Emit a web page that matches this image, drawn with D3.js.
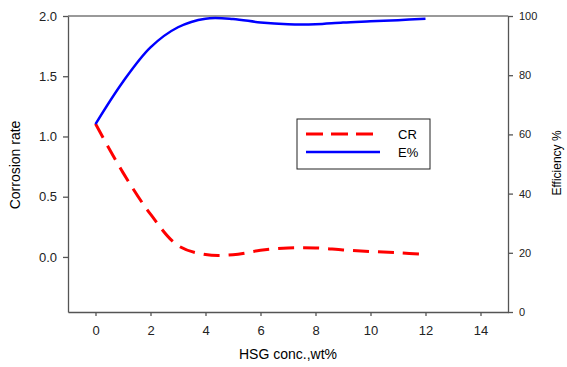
<!DOCTYPE html>
<html>
<head>
<meta charset="utf-8">
<script src="https://cdn.jsdelivr.net/npm/d3@7"></script>
<style>
  body { margin: 0; background: #fff; }
  svg { font-family: Arial, "Liberation Sans", sans-serif; }
  .axis path, .axis line { stroke: #555; stroke-width: 1.3; }
  .axis text { fill: #222; }
</style>
</head>
<body>
<svg width="567" height="367"></svg>
<script>
// data
var conc = [0, 1, 2, 3, 4, 5, 6, 7, 8, 9, 10, 11, 12];
var corrRate = [1.105, 0.70, 0.355, 0.095, 0.02, 0.018, 0.055, 0.075, 0.075, 0.058, 0.045, 0.035, 0.02];
var efficiency = [63.5, 77.8, 89.4, 96.2, 99.1, 99.0, 97.8, 97.2, 97.2, 97.8, 98.2, 98.6, 99.1];
var xTicks = [0, 2, 4, 6, 8, 10, 12, 14];
var leftTicks = [0.0, 0.5, 1.0, 1.5, 2.0];
var rightTicks = [0, 20, 40, 60, 80, 100];

var svg = d3.select("svg");
var margin = {top: 16, right: 59, bottom: 55, left: 68},
    width = 567 - margin.left - margin.right,
    height = 367 - margin.top - margin.bottom;

var g = svg.append("g")
  .attr("transform", "translate(" + margin.left + "," + margin.top + ")");

var x = d3.scaleLinear().domain([-1, 15]).range([0, width]),
    yL = d3.scaleLinear().domain([-0.457, 2.0]).range([height, 0]),
    yR = d3.scaleLinear().domain([0, 100]).range([height, 0]);

// frame top line
g.append("line")
  .attr("x1", 0).attr("x2", width).attr("y1", 0).attr("y2", 0)
  .attr("stroke", "#777").attr("stroke-width", 1.3);

var xAxis = g.append("g")
  .attr("class", "axis")
  .attr("transform", "translate(0," + height + ")")
  .call(d3.axisBottom(x).tickValues(xTicks).tickSize(4).tickSizeOuter(0).tickPadding(10));
xAxis.selectAll("text").style("font-size", "13px");

var leftAxis = g.append("g")
  .attr("class", "axis")
  .call(d3.axisLeft(yL).tickValues(leftTicks).tickFormat(d3.format(".1f")).tickSize(5).tickSizeOuter(0).tickPadding(6));
leftAxis.selectAll("text").style("font-size", "13px");

var rightAxis = g.append("g")
  .attr("class", "axis")
  .attr("transform", "translate(" + width + ",0)")
  .call(d3.axisRight(yR).tickValues(rightTicks).tickSize(5).tickSizeOuter(0).tickPadding(6));
rightAxis.selectAll("text").style("font-size", "11px");

// axis titles
svg.append("text")
  .attr("transform", "translate(20," + 165 + ") rotate(-90)")
  .attr("text-anchor", "middle")
  .style("font-size", "14px")
  .text("Corrosion rate");

svg.append("text")
  .attr("transform", "translate(561," + 163 + ") rotate(-90)")
  .attr("text-anchor", "middle")
  .style("font-size", "12px")
  .text("Efficiency %");

svg.append("text")
  .attr("x", 288)
  .attr("y", 359)
  .attr("text-anchor", "middle")
  .style("font-size", "14px")
  .text("HSG conc.,wt%");

// lines
var crLine = d3.line().x((d, i) => x(conc[i])).y(d => yL(d)).curve(d3.curveCatmullRom.alpha(0.5));
var effLine = d3.line().x((d, i) => x(conc[i])).y(d => yR(d)).curve(d3.curveCatmullRom.alpha(0.5));

g.append("path")
  .datum(corrRate)
  .attr("d", crLine)
  .attr("fill", "none")
  .attr("stroke", "#ff0000")
  .attr("stroke-width", 3)
  .attr("stroke-dasharray", "16,9");

g.append("path")
  .datum(efficiency)
  .attr("d", effLine)
  .attr("fill", "none")
  .attr("stroke", "#0000ff")
  .attr("stroke-width", 2.5);

// legend
var legend = svg.append("g").attr("transform", "translate(297,119)");
legend.append("rect")
  .attr("width", 133).attr("height", 50)
  .attr("fill", "#fff").attr("stroke", "#222").attr("stroke-width", 1);
legend.append("line")
  .attr("x1", 9).attr("x2", 78).attr("y1", 15).attr("y2", 15)
  .attr("stroke", "#ff0000").attr("stroke-width", 3).attr("stroke-dasharray", "17,8");
legend.append("line")
  .attr("x1", 9).attr("x2", 83).attr("y1", 33).attr("y2", 33)
  .attr("stroke", "#0000ff").attr("stroke-width", 2.5);
legend.append("text").attr("x", 101).attr("y", 20).style("font-size", "13px").text("CR");
legend.append("text").attr("x", 101).attr("y", 38).style("font-size", "13px").text("E%");
</script>
</body>
</html>
